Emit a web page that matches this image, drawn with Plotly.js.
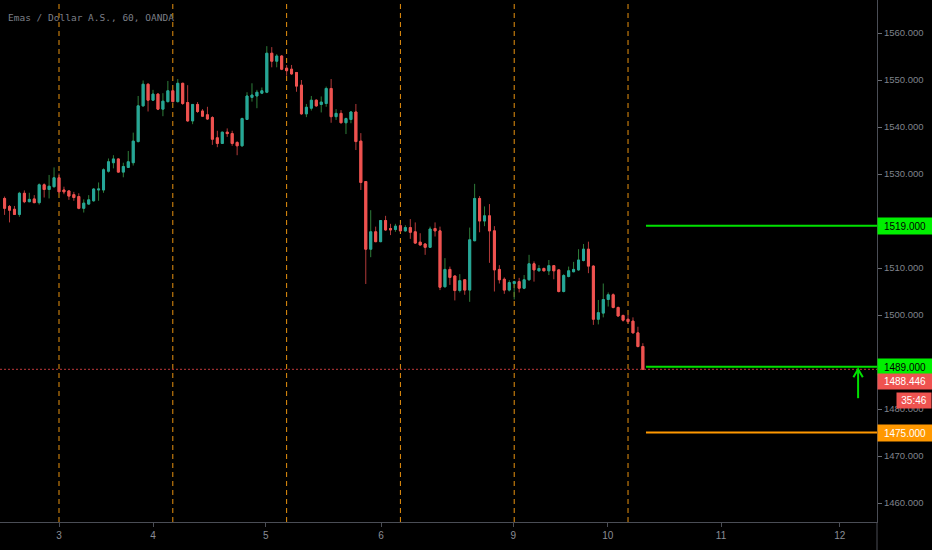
<!DOCTYPE html>
<html>
<head>
<meta charset="utf-8">
<script src="https://cdn.plot.ly/plotly-3.0.1.min.js"></script>
<style>html,body{margin:0;padding:0;background:#000;}#chart{width:932px;height:550px;}</style>
</head>
<body>
<div id="chart"></div>
<script>
// ---- DATA (hourly candles, XAU/USD) ----
const openP = [1524.8,1523.1,1522.5,1521.4,1525.9,1524.1,1524.7,1523.9,1527.7,1526.7,1527.3,1529.2,1526.6,1526.4,1525.6,1525.2,1522.7,1523.6,1524.3,1526.6,1526.6,1530.6,1532.4,1533.2,1530.4,1531.4,1532.4,1536.9,1544.5,1549.1,1545.7,1547.0,1543.8,1545.4,1547.7,1545.4,1549.3,1545.2,1541.3,1544.8,1543.4,1542.6,1542.0,1537.7,1536.5,1538.9,1538.6,1536.7,1536.0,1541.6,1546.3,1546.6,1547.2,1547.4,1555.7,1554.0,1555.1,1552.5,1552.3,1551.6,1548.9,1542.8,1544.0,1545.7,1544.8,1545.0,1548.2,1542.2,1542.9,1540.9,1541.6,1543.2,1537.0,1528.4,1514.0,1517.7,1515.6,1520.1,1518.4,1518.2,1519.0,1517.9,1518.6,1517.7,1515.5,1515.1,1514.4,1518.4,1517.9,1506.0,1509.7,1508.3,1505.2,1507.5,1505.3,1515.8,1524.8,1520.0,1521.1,1517.9,1509.7,1507.6,1505.3,1506.7,1507.1,1505.7,1507.5,1510.9,1509.4,1509.9,1509.4,1510.5,1509.6,1505.0,1508.2,1509.2,1509.6,1511.6,1514.0,1510.4,1499.1,1500.4,1503.3,1504.3,1501.6,1499.9,1499.1,1498.7,1496.2,1493.3];
const highP = [1525.2,1523.4,1523.2,1526.2,1526.5,1526.0,1525.5,1528.0,1528.0,1529.8,1531.4,1530.1,1527.3,1526.5,1526.2,1525.9,1524.6,1525.5,1527.0,1528.2,1531.2,1533.3,1534.0,1533.3,1532.4,1534.9,1538.8,1546.6,1549.9,1549.3,1547.9,1547.2,1547.2,1549.8,1547.9,1550.2,1549.4,1548.9,1544.9,1545.3,1543.8,1544.3,1542.3,1539.2,1539.0,1539.7,1539.2,1537.0,1542.0,1547.4,1549.3,1547.9,1548.4,1557.2,1557.0,1555.5,1555.3,1553.2,1553.2,1551.6,1550.0,1544.9,1546.6,1545.9,1546.5,1548.6,1550.2,1543.8,1543.6,1542.0,1543.4,1544.9,1538.7,1528.4,1522.3,1518.8,1520.2,1521.1,1519.4,1519.4,1519.4,1519.1,1520.4,1519.7,1517.4,1515.3,1518.8,1519.7,1518.8,1512.1,1510.3,1508.4,1508.7,1507.6,1518.6,1527.9,1525.3,1523.1,1523.6,1518.9,1510.6,1508.0,1507.4,1507.3,1507.9,1508.5,1512.8,1511.4,1510.6,1510.1,1511.7,1510.6,1509.7,1508.7,1510.3,1511.3,1514.0,1515.1,1515.6,1510.6,1503.2,1506.7,1504.8,1504.6,1501.8,1500.1,1500.0,1499.5,1497.5,1494.0];
const lowP = [1521.3,1519.7,1521.3,1520.9,1523.8,1524.0,1523.8,1523.5,1525.0,1524.8,1527.1,1525.9,1525.7,1524.5,1524.3,1522.5,1521.8,1523.4,1524.1,1524.3,1526.0,1530.3,1531.2,1530.3,1529.3,1531.3,1531.8,1536.7,1544.3,1543.3,1545.6,1543.6,1542.3,1545.2,1545.2,1545.2,1544.7,1541.1,1540.6,1543.0,1542.2,1541.5,1536.2,1535.7,1536.4,1537.9,1536.0,1534.0,1535.8,1541.5,1545.4,1544.0,1547.0,1547.2,1552.7,1552.7,1552.1,1550.9,1551.1,1547.5,1542.6,1542.1,1543.5,1544.3,1543.1,1544.3,1540.9,1541.5,1540.8,1538.5,1540.8,1535.1,1526.6,1506.6,1512.3,1515.5,1515.5,1517.9,1517.0,1517.7,1517.7,1517.7,1516.2,1515.1,1514.8,1512.8,1514.3,1516.7,1505.3,1505.9,1506.4,1503.1,1504.8,1504.3,1502.8,1515.7,1517.6,1518.9,1511.1,1505.0,1506.7,1504.5,1505.0,1503.3,1504.8,1505.5,1507.3,1507.1,1509.3,1509.3,1508.5,1507.6,1504.8,1504.8,1508.0,1509.1,1509.4,1511.4,1508.9,1497.9,1498.0,1499.5,1501.8,1501.4,1499.6,1498.6,1498.2,1496.1,1493.1,1488.3];
const closeP = [1522.7,1522.3,1521.4,1525.9,1524.1,1524.6,1523.9,1527.7,1526.7,1527.4,1529.2,1526.2,1526.2,1525.3,1525.0,1522.7,1523.8,1524.5,1526.8,1526.8,1530.9,1532.6,1533.2,1530.4,1531.6,1532.6,1537.0,1544.5,1549.1,1545.7,1547.0,1543.8,1545.5,1547.7,1545.4,1549.3,1545.0,1541.3,1544.8,1543.3,1542.3,1541.7,1537.4,1536.5,1538.9,1538.6,1536.5,1536.0,1541.8,1546.6,1546.8,1547.4,1547.7,1555.7,1554.0,1555.1,1552.3,1552.0,1551.3,1548.7,1542.8,1544.2,1545.7,1544.5,1545.3,1548.2,1542.2,1542.9,1540.9,1541.8,1543.2,1536.9,1528.2,1514.0,1517.7,1515.6,1520.1,1518.1,1518.1,1518.9,1517.9,1518.6,1517.6,1515.3,1514.9,1514.4,1518.3,1517.9,1505.9,1509.7,1508.0,1505.2,1507.3,1505.3,1516.0,1524.8,1520.0,1521.1,1517.9,1509.6,1507.5,1505.3,1506.9,1507.1,1505.7,1507.5,1510.9,1509.6,1509.9,1509.4,1510.5,1509.4,1505.0,1508.4,1509.4,1509.7,1511.7,1514.0,1510.4,1499.1,1500.5,1503.3,1504.3,1501.6,1499.8,1498.9,1498.6,1496.2,1493.3,1488.446];

// session separators (candle index), day tick labels and their positions (candle index units)
const sessionIdx = [11, 34, 57, 80, 103, 126];
const tickLabels = ['3', '4', '5', '6', '9', '10', '11', '12'];
const tickPos = [11.0, 30.0, 52.8, 76.1, 102.8, 121.9, 144.8, 168.8];
// price-axis ticks that remain visible (1520 and 1490 sit under the level labels)
const priceTicks = [1460, 1470, 1480, 1500, 1510, 1530, 1540, 1550, 1560];

// horizontal levels drawn by the user
const levelValues = [1519, 1489, 1475];
const levelTexts = ['1519.000', '1489.000', '1475.000'];
const levelColors = ['#00e000', '#00e000', '#ff9800'];
const levelLabelBg = ['#00f000', '#00f000', '#ff9800'];
const levelLabelFg = ['#000000', '#000000', '#ffffff'];
const countdownText = '35:46';
const arrowBase = 1482.3;
const titleText = 'Emas / Dollar A.S., 60, OANDA';

// ---- BUILD ----
const idx = openP.map((_, i) => i);
const lastIdx = idx[idx.length - 1];
const lastClose = closeP[closeP.length - 1];
const bodyHigh = openP.map((o, i) => Math.max(o, closeP[i]));
const bodyLow = openP.map((o, i) => Math.min(o, closeP[i]));

const xRange = [-0.924, 176.32];
const yRange = [1455.96, 1567.02];
const arrowX = 172.5;

const upC = '#26a69a', dnC = '#ef5350';
const upW = '#2e7d3a', dnW = '#b23a3a';

const wicks = {
  type: 'candlestick', x: idx, open: openP, high: highP, low: lowP, close: closeP,
  increasing: {line: {color: upW, width: 1}, fillcolor: upW},
  decreasing: {line: {color: dnW, width: 1}, fillcolor: dnW},
  whiskerwidth: 0, hoverinfo: 'skip', showlegend: false
};
const bodies = {
  type: 'candlestick', x: idx, open: openP, high: bodyHigh, low: bodyLow, close: closeP,
  increasing: {line: {color: upC, width: 1}, fillcolor: upC},
  decreasing: {line: {color: dnC, width: 1}, fillcolor: dnC},
  whiskerwidth: 0, hoverinfo: 'skip', showlegend: false
};

const shapes = [];
sessionIdx.forEach(s => shapes.push({
  type: 'line', xref: 'x', yref: 'paper', x0: s, x1: s, y0: 0, y1: 1,
  line: {color: '#e8920f', width: 1, dash: '5px,4px'}, layer: 'below'
}));
// last price dotted line
shapes.push({type: 'line', xref: 'paper', yref: 'y', x0: 0, x1: 1, y0: lastClose, y1: lastClose,
  line: {color: '#c0393b', width: 1, dash: '2px,2px'}});
levelValues.forEach((v, i) => shapes.push({
  type: 'line', xref: 'x', yref: 'y', x0: lastIdx + 0.63, x1: xRange[1], y0: v, y1: v,
  line: {color: levelColors[i], width: 2}
}));
// arrow
shapes.push({type: 'line', xref: 'x', yref: 'y', x0: arrowX, x1: arrowX, y0: arrowBase, y1: lastClose,
  line: {color: '#00e000', width: 2}});
shapes.push({type: 'path', xref: 'x', yref: 'y',
  path: `M ${arrowX - 0.95},${lastClose - 1.7} L ${arrowX},${lastClose} L ${arrowX + 0.95},${lastClose - 1.7}`,
  line: {color: '#00e000', width: 2}});
// axis line extension below plot
shapes.push({type: 'line', xref: 'paper', yref: 'paper', x0: 1, x1: 1, y0: -0.06, y1: 0,
  line: {color: '#4a4d55', width: 1}});

const labFont = 'Liberation Sans, Arial, sans-serif';
const annotations = [];
levelValues.forEach((v, i) => annotations.push({
  xref: 'paper', yref: 'y', x: 1, y: v, xanchor: 'left', yanchor: 'middle',
  text: levelTexts[i], showarrow: false, bgcolor: levelLabelBg[i],
  font: {family: labFont, size: 10, color: levelLabelFg[i]},
  width: 52, height: 14, align: 'center', borderpad: 1
}));
annotations.push({
  xref: 'paper', yref: 'y', x: 1, y: lastClose, yshift: -12.5, xanchor: 'left', yanchor: 'middle',
  text: lastClose.toFixed(3), showarrow: false, bgcolor: dnC,
  font: {family: labFont, size: 10, color: '#ffffff'},
  width: 52, height: 13, align: 'center', borderpad: 1
});
annotations.push({
  xref: 'paper', yref: 'y', x: 1, y: lastClose, xshift: 19, yshift: -31, xanchor: 'left', yanchor: 'middle',
  text: countdownText, showarrow: false, bgcolor: dnC,
  font: {family: labFont, size: 10, color: '#ffffff'},
  width: 32, height: 13, align: 'center', borderpad: 1
});
annotations.push({
  xref: 'paper', yref: 'paper', x: 0, y: 1, xshift: 6, yshift: -17, xanchor: 'left', yanchor: 'middle',
  text: titleText, showarrow: false,
  font: {family: 'DejaVu Sans Mono, monospace', size: 9.5, color: '#7c7f87'}
});

const layout = {
  width: 932, height: 550,
  paper_bgcolor: '#000000', plot_bgcolor: '#000000',
  margin: {l: 0, r: 55, t: 0, b: 28, pad: 0},
  showlegend: false, boxmode: 'overlay', boxgap: 0.42,
  xaxis: {
    type: 'linear', range: xRange, rangeslider: {visible: false}, automargin: false,
    showgrid: false, zeroline: false, showline: true, linecolor: '#4a4d55', linewidth: 1,
    ticks: 'outside', ticklen: 4, tickcolor: '#4a4d55',
    tickmode: 'array', tickvals: tickPos, ticktext: tickLabels,
    tickfont: {family: labFont, size: 10, color: '#8a8d95'}
  },
  yaxis: {
    side: 'right', range: yRange, automargin: false,
    showgrid: false, zeroline: false, showline: true, linecolor: '#4a4d55', linewidth: 1,
    ticks: 'outside', ticklen: 4, tickcolor: '#6a6d75',
    tickmode: 'array', tickvals: priceTicks, ticktext: priceTicks.map(v => v.toFixed(3)),
    tickfont: {family: labFont, size: 9.5, color: '#7f838c'}
  },
  shapes: shapes, annotations: annotations
};

Plotly.newPlot('chart', [wicks, bodies], layout, {displayModeBar: false, staticPlot: true});
</script>
</body>
</html>
